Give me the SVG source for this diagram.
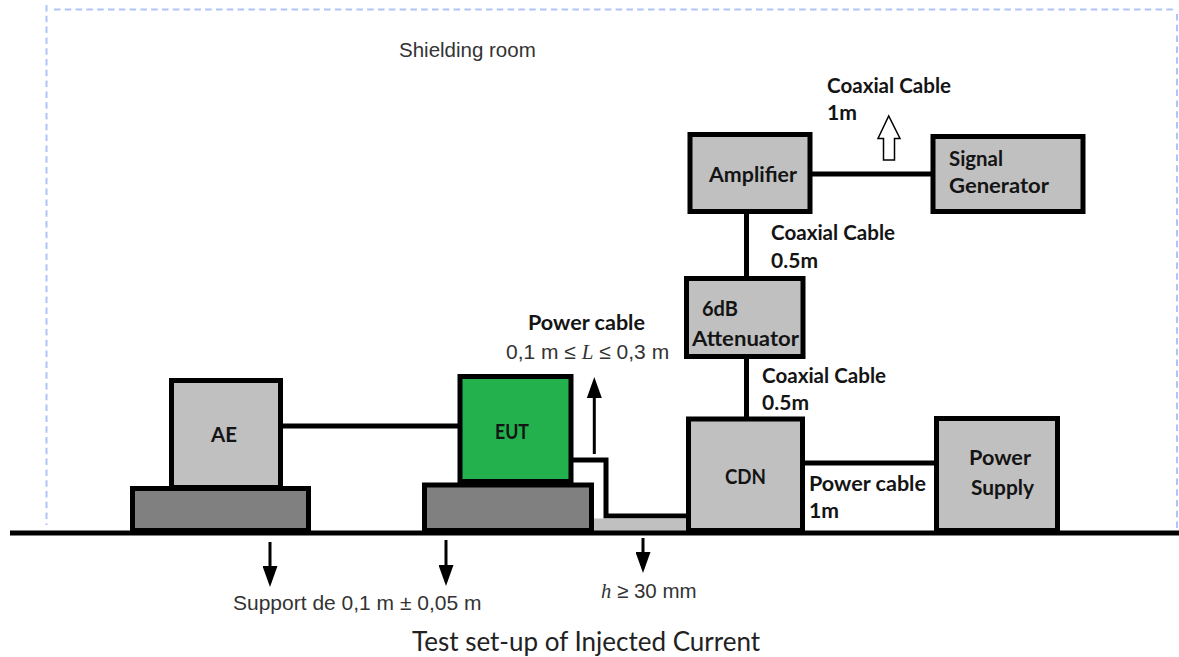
<svg xmlns="http://www.w3.org/2000/svg" width="1179" height="657" viewBox="0 0 1179 657">
<style>
.box{stroke:#000;stroke-width:5}
.lt{fill:#c0c0c0}
.dk{fill:#808080}
.gr{fill:#22b14c}
.w{fill:none;stroke:#000;stroke-width:5}
.room{fill:none;stroke:#b0c4f8;stroke-width:2;stroke-dasharray:6.500 4.300}
.ar{fill:none;stroke:#000;stroke-width:3}
.b{font-family:"Lato","Liberation Sans",sans-serif;font-weight:700;font-size:21px;fill:#141414}
.a{font-family:"Liberation Sans",Arial,sans-serif;font-size:20.500px;fill:#333}
.i{font-family:"Liberation Serif",serif;font-style:italic}
.cap{font-family:"Lato","Liberation Sans",sans-serif;font-size:26px;fill:#222}
</style>
<defs>
<marker id="ah" markerUnits="userSpaceOnUse" markerWidth="21" markerHeight="15" refX="11" refY="7.500" orient="auto" viewBox="0 0 21 15"><path d="M0 0L21 7.500L0 15Z" fill="#000"/></marker>
</defs>
<rect width="1179" height="657" fill="#fff"/>
<g id="shielding-room">
<path class="room" d="M1177 14V530"/>
<path class="room" d="M46.500 5V525"/>
<path class="room" d="M54 9.500H1177"/>
<text class="a" x="399" y="57">Shielding room</text>
</g>
<g id="connectors">
<path class="w" d="M280 426H460"/>
<path class="w" d="M571 460H606V516H690"/>
<path class="w" d="M810 174H933"/>
<path class="w" d="M746.500 212V278"/>
<path class="w" d="M746.500 357V419"/>
<path class="w" d="M803 463H936"/>
<path class="ar" d="M594.300 454V387" marker-end="url(#ah)"/>
<path class="ar" d="M270 542V577" marker-end="url(#ah)"/>
<path class="ar" d="M446 540V576" marker-end="url(#ah)"/>
<path class="ar" d="M643 538V563" marker-end="url(#ah)"/>
<path d="M883.500 160V138.500H878L888.700 116L900 138.500H894.500V160Z" fill="#fff" stroke="#000" stroke-width="1.500"/>
</g>
<g id="strip"><rect x="594" y="518.500" width="93" height="13" class="lt"/></g>
<g id="ae-support"><rect class="box dk" x="132.500" y="488.500" width="176" height="42"/></g>
<g id="ae"><rect class="box lt" x="171.500" y="380.500" width="109" height="107"/><text class="b" x="224" y="442" text-anchor="middle" textLength="26" lengthAdjust="spacingAndGlyphs">AE</text></g>
<g id="eut-support"><rect class="box dk" x="424.500" y="485" width="167" height="45.500"/></g>
<g id="eut"><rect class="box gr" x="460" y="376.500" width="111" height="105"/><text class="b" x="495" y="439" textLength="34" lengthAdjust="spacingAndGlyphs">EUT</text></g>
<g id="cdn"><rect class="box lt" x="688.500" y="419" width="114" height="111.500"/><text class="b" x="725" y="484" textLength="41" lengthAdjust="spacingAndGlyphs">CDN</text></g>
<g id="attenuator"><rect class="box lt" x="686.500" y="278.500" width="116.500" height="78"/><text class="b" x="702" y="316" textLength="36" lengthAdjust="spacingAndGlyphs">6dB</text><text class="b" x="692" y="346" textLength="107" lengthAdjust="spacingAndGlyphs">Attenuator</text></g>
<g id="amplifier"><rect class="box lt" x="690" y="134.500" width="120" height="77"/><text class="b" x="709" y="182" textLength="88" lengthAdjust="spacingAndGlyphs">Amplifier</text></g>
<g id="signal-generator"><rect class="box lt" x="933" y="136.500" width="150" height="75"/><text class="b" x="949" y="166" textLength="54" lengthAdjust="spacingAndGlyphs">Signal</text><text class="b" x="949" y="193" textLength="100" lengthAdjust="spacingAndGlyphs">Generator</text></g>
<g id="power-supply"><rect class="box lt" x="936.500" y="418.500" width="121" height="112"/><text class="b" x="969" y="465" textLength="62" lengthAdjust="spacingAndGlyphs">Power</text><text class="b" x="971" y="495" textLength="63" lengthAdjust="spacingAndGlyphs">Supply</text></g>
<g id="ground"><path class="w" d="M10 533H1179"/></g>
<g id="labels">
<text class="b" x="827" y="93" textLength="124" lengthAdjust="spacingAndGlyphs">Coaxial Cable</text>
<text class="b" x="827" y="120" textLength="30" lengthAdjust="spacingAndGlyphs">1m</text>
<text class="b" x="771" y="240" textLength="124" lengthAdjust="spacingAndGlyphs">Coaxial Cable</text>
<text class="b" x="771" y="268" textLength="47" lengthAdjust="spacingAndGlyphs">0.5m</text>
<text class="b" x="762" y="383" textLength="124" lengthAdjust="spacingAndGlyphs">Coaxial Cable</text>
<text class="b" x="762" y="410" textLength="47" lengthAdjust="spacingAndGlyphs">0.5m</text>
<text class="b" x="528" y="330" textLength="117" lengthAdjust="spacingAndGlyphs">Power cable</text>
<text class="a" x="506" y="359" style="font-size:21px">0,1 m ≤ <tspan class="i">L</tspan> ≤ 0,3 m</text>
<text class="b" x="809" y="491" textLength="117" lengthAdjust="spacingAndGlyphs">Power cable</text>
<text class="b" x="809" y="518" textLength="30" lengthAdjust="spacingAndGlyphs">1m</text>
<text class="a" x="233" y="610" style="font-size:21px">Support de 0,1 m ± 0,05 m</text>
<text class="a" x="601" y="598"><tspan class="i">h</tspan> ≥ 30 mm</text>
<text class="cap" x="412" y="651">Test set-up of Injected Current</text>
</g>
</svg>
